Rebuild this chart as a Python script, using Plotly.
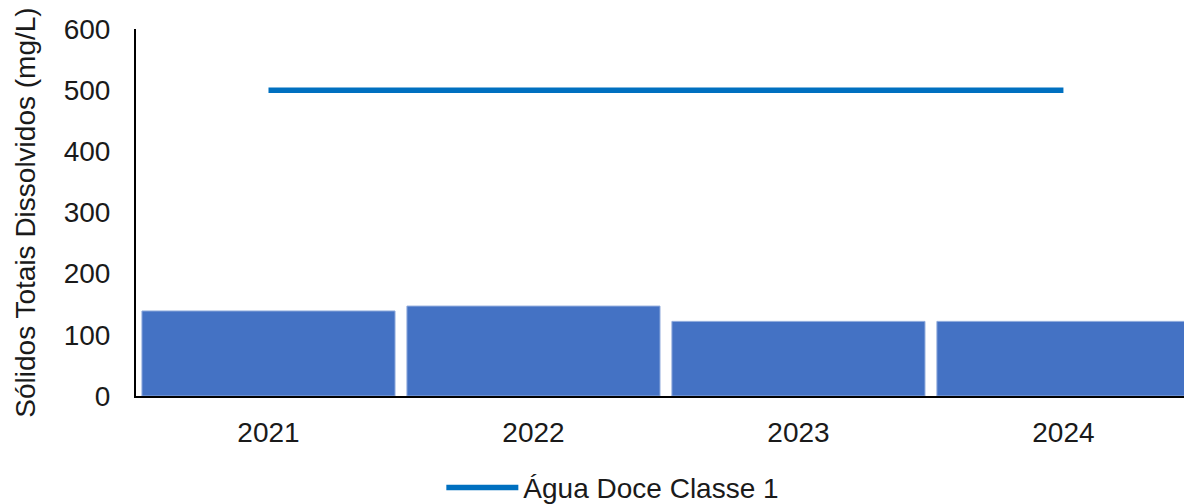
import plotly.graph_objects as go

years = ["2021", "2022", "2023", "2024"]
tds_values = [139, 147, 122, 122]
limit_values = [500, 500, 500, 500]
limit_name = "Água Doce Classe 1"
y_title = "Sólidos Totais Dissolvidos (mg/L)"
y_ticks = [0, 100, 200, 300, 400, 500, 600]

font_family = "Liberation Sans, Arial, sans-serif"
FS = 28

fig = go.Figure()
fig.add_trace(go.Bar(
    x=years, y=tds_values, marker=dict(color="#4472C4", line=dict(color="#8FAADC", width=1)),
    showlegend=False, hoverinfo="skip",
))
fig.add_trace(go.Scatter(
    x=years, y=limit_values, mode="lines", name=limit_name,
    line=dict(color="#0070C0", width=5.5), hoverinfo="skip",
))

fig.update_layout(
    width=1184, height=504,
    margin=dict(l=136, r=0, t=29, b=108, autoexpand=False),
    paper_bgcolor="white", plot_bgcolor="white",
    bargap=0.045,
    font=dict(family=font_family, size=FS, color="#1a1a1a"),
    showlegend=True,
    legend=dict(orientation="h", x=0.455, xanchor="center", y=-0.25, yanchor="middle",
                font=dict(size=FS, color="#1a1a1a"), itemwidth=72),
)
fig.update_xaxes(
    type="category", range=[-0.5, 3.455],
    showline=True, linecolor="black", linewidth=2,
    showgrid=False, ticks="", ticklabelstandoff=10,
    tickfont=dict(size=FS), automargin=False,
)
fig.update_yaxes(
    range=[0, 600], tickvals=y_ticks,
    showline=True, linecolor="black", linewidth=2,
    showgrid=False, zeroline=False, ticks="", ticklabelstandoff=18,
    tickfont=dict(size=FS), automargin=False,
    title=dict(text=y_title, font=dict(size=FS), standoff=20),
)

fig.write_html(
    "out.html",
    config={"displayModeBar": False},
    post_script="document.body.style.margin='0';document.body.style.overflow='hidden';",
)
